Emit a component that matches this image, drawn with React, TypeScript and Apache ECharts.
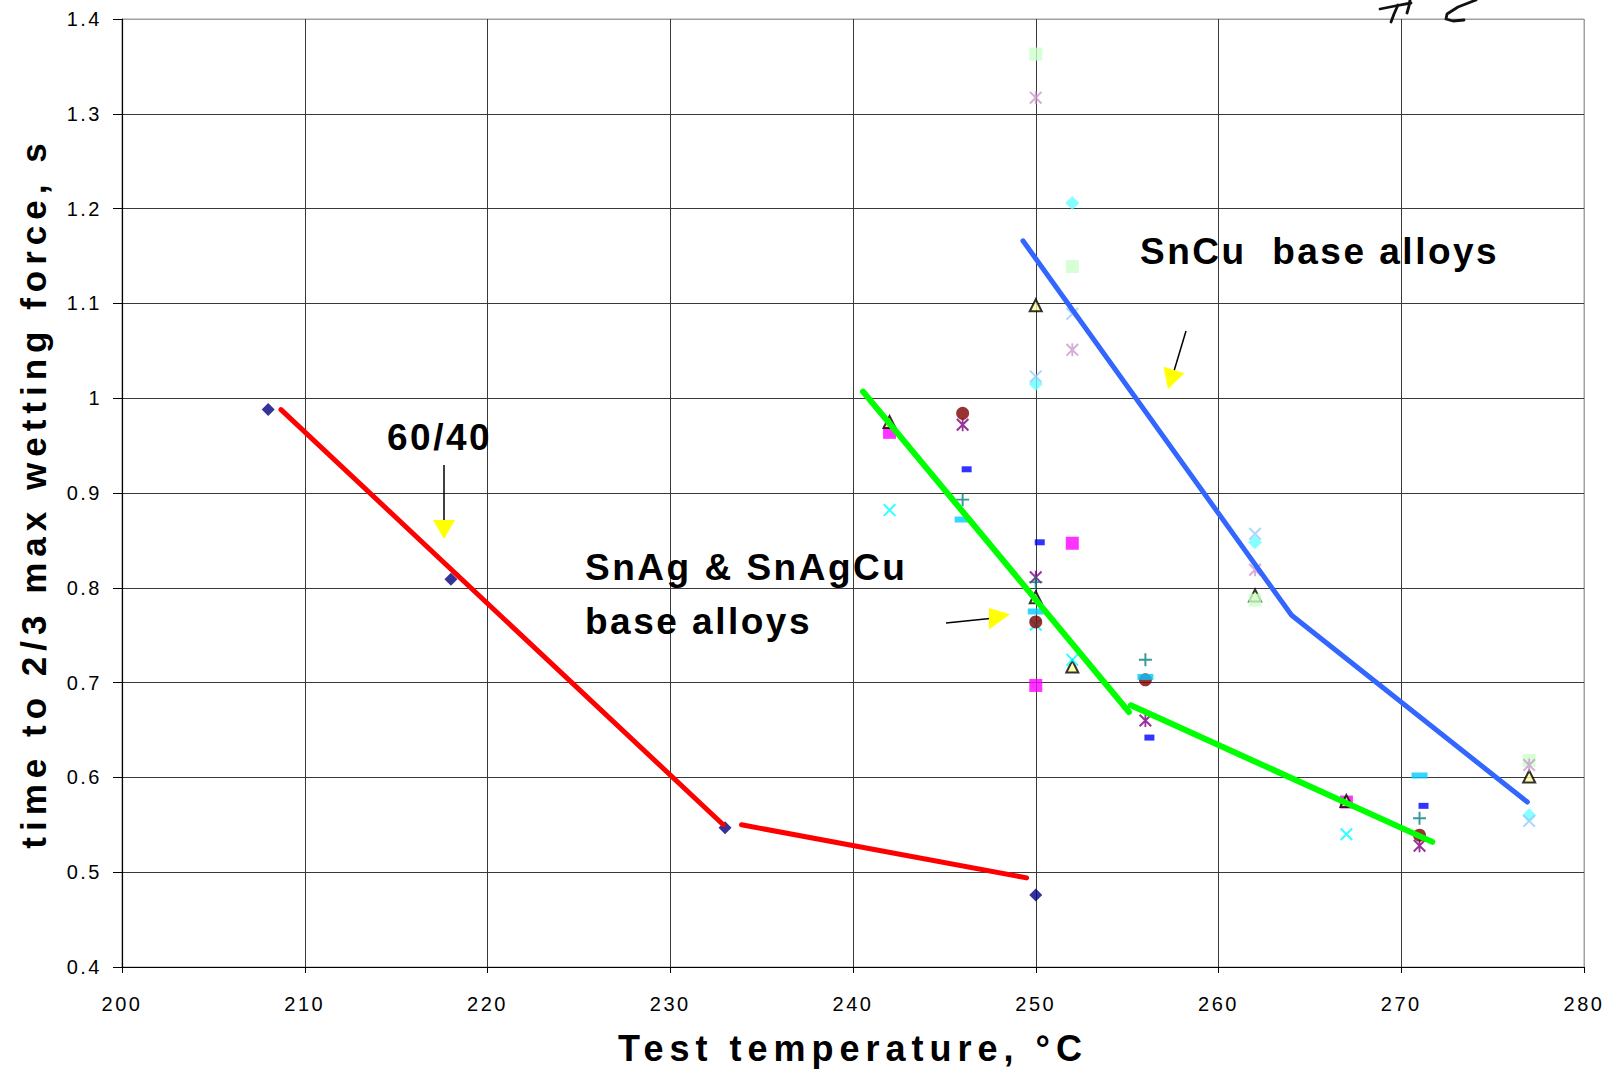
import React, { useEffect, useRef } from "react";
import * as echarts from "echarts";

// ---------- axis settings ----------
const X_MIN = 200;
const X_MAX = 280;
const X_STEP = 10;
const Y_MIN = 0.4;
const Y_MAX = 1.4;
const Y_STEP = 0.1;
const X_TITLE = "Test temperature, °C";
const Y_TITLE = "time to 2/3 max wetting force, s";

// ---------- measured points [temperature °C, time s] ----------
const navyDiamond = [[208, 0.988], [218, 0.809], [233, 0.547], [250, 0.476]];
const magentaSquare = [[242, 0.964], [250, 0.697], [252, 0.847], [267, 0.574]];
const yellowTriangle = [[242, 0.975], [250, 1.098], [250, 0.79], [252, 0.717], [262, 0.792], [267, 0.575], [277, 0.601]];
const cyanCross = [[242, 0.882], [250, 0.761], [252, 0.724], [267, 0.54]];
const purpleStar = [[246, 0.972], [250, 0.811], [256, 0.66], [271, 0.528]];
const darkRedCircle = [[246, 0.984], [250, 0.764], [256, 0.703], [271, 0.539]];
const tealPlus = [[246, 0.893], [250, 0.806], [256, 0.724], [271, 0.557]];
const skyDash = [[246, 0.872], [250, 0.775], [256, 0.706], [271, 0.602]];
const blueDash = [[246, 0.925], [250, 0.848], [256, 0.642], [271, 0.57]];
const paleGreenSquare = [[250, 1.363], [252, 1.139], [262, 0.787], [277, 0.618]];
const plumStar = [[250, 1.317], [252, 1.051], [262, 0.819], [277, 0.613]];
const cyanDiamond = [[250, 1.015], [252, 1.206], [262, 0.848], [277, 0.56]];
const steelCross = [[250, 1.023], [252, 1.089], [262, 0.857], [277, 0.554]];

// ---------- hand drawn trend lines ----------
const redLineA = [[208.7, 0.988], [232.9, 0.55]];
const redLineB = [[233.9, 0.55], [249.5, 0.494]];
const greenLineA = [[240.55, 1.007], [255.1, 0.669]];
const greenLineB = [[255.2, 0.676], [271.7, 0.532]];
const blueLine = [[249.3, 1.166], [264.0, 0.771], [276.9, 0.574]];

// ---------- annotation texts ----------
const LABEL_6040 = "60/40";
const LABEL_SNAG_1 = "SnAg & SnAgCu";
const LABEL_SNAG_2 = "base alloys";
const LABEL_SNCU = "SnCu  base alloys";

const X_PATH = "path://M0,1.1L1.1,0L10,8.9L8.9,10Z M8.9,0L10,1.1L1.1,10L0,8.9Z";
const STAR_PATH = "path://M0,1.1L1.1,0L10,8.9L8.9,10Z M8.9,0L10,1.1L1.1,10L0,8.9Z M4.3,0L5.7,0L5.7,10L4.3,10Z";
const PLUS_PATH = "path://M4.25,0L5.75,0L5.75,4.25L10,4.25L10,5.75L5.75,5.75L5.75,10L4.25,10L4.25,5.75L0,5.75L0,4.25L4.25,4.25Z";

const TICK_FONT = "TickFace, Arial, sans-serif";
const TITLE_FONT = "TitleFace, Arial, sans-serif";
const NOTE_FONT = "NoteFace, Arial, sans-serif";

function scatter(name: string, data: number[][], symbol: string, size: any, itemStyle: any, offset?: number[]) {
  return {
    name,
    type: "scatter",
    data,
    symbol,
    symbolSize: size,
    symbolOffset: offset || [0, 0],
    itemStyle,
    z: 3,
    silent: true,
  };
}

function trend(name: string, data: number[][], color: string, width: number) {
  return {
    name,
    type: "line",
    data,
    symbol: "none",
    lineStyle: { color, width, cap: "round", join: "round" },
    z: 5,
    silent: true,
  };
}

export default function App() {
  const ref = useRef<HTMLDivElement>(null);

  useEffect(() => {
    if (!ref.current) return;
    const chart = echarts.init(ref.current, null, { renderer: "svg" });
    const nX = Math.round((X_MAX - X_MIN) / X_STEP) + 1;
    const nY = Math.round((Y_MAX - Y_MIN) / Y_STEP) + 1;
    const xSplitColors = Array.from({ length: nX }, (_, i) => (i === nX - 1 ? "#a0a0a0" : "#3a3a3a"));
    const ySplitColors = Array.from({ length: nY }, (_, i) => (i === nY - 1 ? "#a0a0a0" : "#3a3a3a"));

    const noteFont = `bold 37px ${NOTE_FONT}`;
    const hand = { stroke: "#111", lineWidth: 2.8, fill: null, lineCap: "round", lineJoin: "round" };
    chart.setOption({
      animation: false,
      backgroundColor: "#ffffff",
      grid: { left: 122, right: 29, top: 19, bottom: 106, show: true, borderColor: "#a0a0a0", borderWidth: 1 },
      xAxis: {
        type: "value",
        min: X_MIN,
        max: X_MAX,
        interval: X_STEP,
        name: X_TITLE,
        nameLocation: "middle",
        nameGap: 63,
        nameTextStyle: { fontFamily: TITLE_FONT, fontWeight: "bold", fontSize: 36, color: "#000" },
        axisLine: { show: true, onZero: false, lineStyle: { color: "#000", width: 1.2 } },
        axisTick: { show: true, inside: false, length: 6, lineStyle: { color: "#000" } },
        axisLabel: { margin: 27, fontFamily: TICK_FONT, fontSize: 20, color: "#000" },
        splitLine: { show: true, lineStyle: { color: xSplitColors, width: 1 } },
      },
      yAxis: {
        type: "value",
        min: Y_MIN,
        max: Y_MAX,
        interval: Y_STEP,
        name: Y_TITLE,
        nameLocation: "middle",
        nameGap: 71,
        nameTextStyle: { fontFamily: TITLE_FONT, fontWeight: "bold", fontSize: 35, color: "#000" },
        axisLine: { show: true, onZero: false, lineStyle: { color: "#000", width: 1.2 } },
        axisTick: { show: true, inside: false, length: 9, lineStyle: { color: "#000" } },
        axisLabel: {
          margin: 20,
          fontFamily: TICK_FONT,
          fontSize: 20,
          color: "#000",
          formatter: (v: number) => String(Math.round(v * 10) / 10),
        },
        splitLine: { show: true, lineStyle: { color: ySplitColors, width: 1 } },
      },
      series: [
        scatter("60/40", navyDiamond, "diamond", 13, { color: "#000080" }),
        scatter("magenta square", magentaSquare, "rect", 13, { color: "#ff00ff" }),
        scatter("yellow triangle", yellowTriangle, "triangle", 12, { color: "#ffff99", borderColor: "#000", borderWidth: 2 }),
        scatter("cyan cross", cyanCross, X_PATH, 13, { color: "#00ffff" }),
        scatter("purple star", purpleStar, STAR_PATH, 13, { color: "#800080" }),
        scatter("dark red circle", darkRedCircle, "circle", 13, { color: "#800000" }),
        scatter("teal plus", tealPlus, PLUS_PATH, 13, { color: "#008080" }),
        scatter("sky dash", skyDash, "rect", [16, 6], { color: "#00ccff" }),
        scatter("blue dash", blueDash, "rect", [10, 6], { color: "#0000ff" }, [4, 0]),
        scatter("pale green square", paleGreenSquare, "rect", 13, { color: "#ccffcc" }),
        scatter("plum star", plumStar, STAR_PATH, 13, { color: "#cc99cc" }),
        scatter("cyan diamond", cyanDiamond, "diamond", 14, { color: "#66ffff" }),
        scatter("steel cross", steelCross, X_PATH, 13, { color: "#99ccff" }),
        trend("60/40 trend A", redLineA, "#ff0000", 5),
        trend("60/40 trend B", redLineB, "#ff0000", 5),
        trend("SnAg trend A", greenLineA, "#00ff00", 6),
        trend("SnAg trend B", greenLineB, "#00ff00", 6),
        trend("SnCu trend", blueLine, "#3366ff", 5),
      ],
      graphic: [
        { type: "text", x: 387, y: 437, z: 10, style: { text: LABEL_6040, font: noteFont, fill: "#000", textVerticalAlign: "middle" } },
        { type: "line", z: 10, shape: { x1: 444, y1: 465, x2: 444, y2: 521 }, style: { stroke: "#000", lineWidth: 1.5 } },
        { type: "polygon", z: 10, shape: { points: [[433, 520], [455, 520], [444, 539]] }, style: { fill: "#ffff00" } },

        { type: "text", x: 585, y: 567, z: 10, style: { text: LABEL_SNAG_1, font: noteFont, fill: "#000", textVerticalAlign: "middle" } },
        { type: "text", x: 585, y: 621, z: 10, style: { text: LABEL_SNAG_2, font: noteFont, fill: "#000", textVerticalAlign: "middle" } },
        { type: "line", z: 10, shape: { x1: 946, y1: 623, x2: 990, y2: 618.5 }, style: { stroke: "#000", lineWidth: 1.5 } },
        { type: "polygon", z: 10, shape: { points: [[989, 608], [989, 629.5], [1010, 614.3]] }, style: { fill: "#ffff00" } },

        { type: "text", x: 1140, y: 251, z: 10, style: { text: LABEL_SNCU, font: noteFont, fill: "#000", textVerticalAlign: "middle" } },
        { type: "line", z: 10, shape: { x1: 1186, y1: 331, x2: 1174, y2: 371 }, style: { stroke: "#000", lineWidth: 1.5 } },
        { type: "polygon", z: 10, shape: { points: [[1163.5, 366.8], [1184.5, 373.2], [1168, 389]] }, style: { fill: "#ffff00" } },

        { type: "polyline", z: 10, shape: { points: [[1380, 9], [1395, 6], [1411, 3]] }, style: hand },
        { type: "polyline", z: 10, shape: { points: [[1391, 22], [1394, 14], [1398, 5]] }, style: hand },
        { type: "polyline", z: 10, shape: { points: [[1407, 13], [1409, 6], [1410, 0]] }, style: hand },
        { type: "polyline", z: 10, shape: { points: [[1476, 0], [1458, 7], [1447, 14], [1446, 19], [1453, 21], [1464, 20]] }, style: hand },
      ],
    });
    return () => chart.dispose();
  }, []);

  return (
    <>
      <style>{`
        text[style*="TickFace"] { letter-spacing: 2.5px; }
        text[style*="TitleFace"] { letter-spacing: 6px; }
        text[style*="NoteFace"] { letter-spacing: 2.5px; }
      `}</style>
      <div ref={ref} style={{ position: "absolute", left: 0, top: 0, width: 1613, height: 1073 }} />
    </>
  );
}
